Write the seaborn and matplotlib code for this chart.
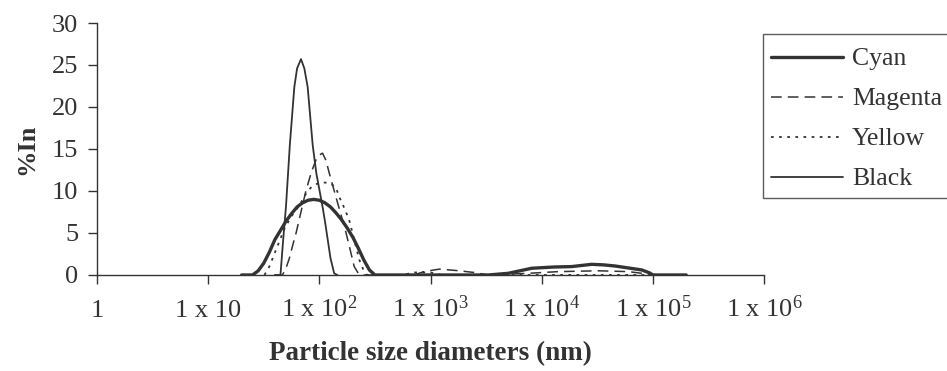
import numpy as np
import pandas as pd
import matplotlib
matplotlib.use('Agg')
import matplotlib.pyplot as plt
import seaborn as sns

# Valeurs : diamètre (nm) et % In
cyan_size = [20, 25.1, 28.2, 31.6, 35.5, 39.8, 44.7, 50.1, 56.2, 63.1, 70.8, 79.4, 89.1, 100,
             112, 126, 141, 158, 178, 200, 224, 251, 282, 316,
             3311, 5012, 8128, 12882, 18621, 28184, 36308, 45709, 79433, 93325, 100000, 199526]
cyan_pct = [0, 0, 0.5, 1.4, 2.7, 4.2, 5.3, 6.4, 7.3, 8.1, 8.6, 8.9, 9.0, 8.9,
            8.6, 8.1, 7.4, 6.6, 5.6, 4.5, 3.2, 1.8, 0.6, 0,
            0, 0.2, 0.8, 0.95, 1.0, 1.27, 1.2, 1.07, 0.6, 0.25, 0, 0]

magenta_size = [39.8, 46.6, 50.1, 53.8, 57.5, 61.8, 69.2, 76.0, 85.1, 93.3, 100, 107, 115,
                123, 141, 158, 174, 191, 206, 224, 240,
                708, 871, 1202, 1820, 2455, 3311, 7586, 14125, 32359, 60256, 91201, 112202, 199526]
magenta_pct = [0, 0, 0.8, 2.0, 3.5, 5.0, 7.8, 10.1, 12.3, 13.7, 14.3, 14.5, 13.6,
               12.1, 9.3, 7.0, 5.0, 2.8, 1.0, 0.2, 0,
               0, 0.4, 0.7, 0.5, 0.3, 0, 0.2, 0.4, 0.5, 0.4, 0.1, 0, 0]

yellow_size = [32.1, 35.5, 39.4, 43.7, 48.5, 56.2, 66.2, 76.0, 85.1, 93.3, 102, 113, 126,
               141, 151, 170, 186, 206, 229, 251, 269,
               562, 708, 1000, 1259, 199526]
yellow_pct = [0, 1.0, 2.5, 4.0, 5.5, 7.0, 8.3, 9.7, 10.5, 10.8, 11.0, 11.0, 10.9,
              10.4, 9.3, 7.8, 6.5, 4.2, 1.8, 0.5, 0,
              0, 0.3, 0.3, 0, 0]

black_size = [39.8, 44.7, 47.3, 50.1, 54.3, 59.6, 63.1, 68.4, 73.3, 78.5, 87.1, 94.0,
              107, 113, 119, 126, 136, 145]
black_pct = [0, 0, 4.2, 8.1, 15.5, 22.4, 24.6, 25.7, 24.6, 22.4, 15.5, 12.1,
             8.1, 6.2, 4.2, 2.0, 0.2, 0]

x_ticks = [1, 10, 100, 1000, 10000, 100000, 1000000]
x_tick_labels = ['1', '1 x 10', r'1 x 10$^{2}$', r'1 x 10$^{3}$', r'1 x 10$^{4}$',
                 r'1 x 10$^{5}$', r'1 x 10$^{6}$']
y_ticks = [0, 5, 10, 15, 20, 25, 30]

sns.set_style('ticks')
plt.rcParams['font.family'] = ['Liberation Serif', 'DejaVu Serif']
plt.rcParams['mathtext.fontset'] = 'custom'
plt.rcParams['mathtext.rm'] = 'Liberation Serif'
plt.rcParams['mathtext.it'] = 'Liberation Serif:italic'
plt.rcParams['mathtext.bf'] = 'Liberation Serif:bold'

ink = '#333333'
fig = plt.figure(figsize=(9.47, 3.71), dpi=100)
ax = fig.add_axes([0.1024, 0.2588, 0.7044, 0.6792])

series = [
    ('Cyan', cyan_size, cyan_pct, '-', 2.4),
    ('Magenta', magenta_size, magenta_pct, (0, (7, 4)), 1.1),
    ('Yellow', yellow_size, yellow_pct, (0, (1.5, 3)), 1.3),
    ('Black', black_size, black_pct, '-', 1.3),
]
for name, xs, ys, ls, lw in series:
    df = pd.DataFrame({'size': xs, 'pct': ys})
    sns.lineplot(data=df, x='size', y='pct', ax=ax, color=ink, linestyle=ls,
                 linewidth=lw, label=name, sort=False, estimator=None)

ax.set_xscale('log')
ax.set_xlim(1, 1e6)
ax.set_ylim(0, 30)
ax.set_xticks(x_ticks)
ax.set_xticklabels(x_tick_labels)
ax.xaxis.set_minor_locator(matplotlib.ticker.NullLocator())
ax.set_yticks(y_ticks)
ax.tick_params(axis='both', direction='out', length=6.5, width=1, color=ink,
               labelsize=19, labelcolor=ink)
ax.tick_params(axis='y', pad=7)
ax.tick_params(axis='x', pad=23.5)
for t in ax.get_xticklabels():
    t.set_verticalalignment('baseline')
for s in ['left', 'bottom']:
    ax.spines[s].set_color(ink)
    ax.spines[s].set_linewidth(1)
sns.despine(ax=ax)

ax.set_xlabel('Particle size diameters (nm)', fontsize=19.5, fontweight='bold', color=ink, labelpad=14)
ax.set_ylabel('%In', fontsize=19, fontweight='bold', color=ink, labelpad=10)

leg = ax.legend(loc='upper left', bbox_to_anchor=(0.806, 0.908), bbox_transform=fig.transFigure,
                frameon=True, fancybox=False, edgecolor=ink, fontsize=18.5, handlelength=2.8,
                handleheight=1.35, handletextpad=0.35, labelspacing=0.43, borderpad=0.3,
                borderaxespad=0)
leg.get_frame().set_linewidth(1)
for t in leg.get_texts():
    t.set_color(ink)
# descendre un peu les traits de la légende au niveau du texte
for line in leg.get_lines():
    line.set_ydata(np.asarray(line.get_ydata()) - 2.8)

fig.savefig('out.png', dpi=100, facecolor='white')
